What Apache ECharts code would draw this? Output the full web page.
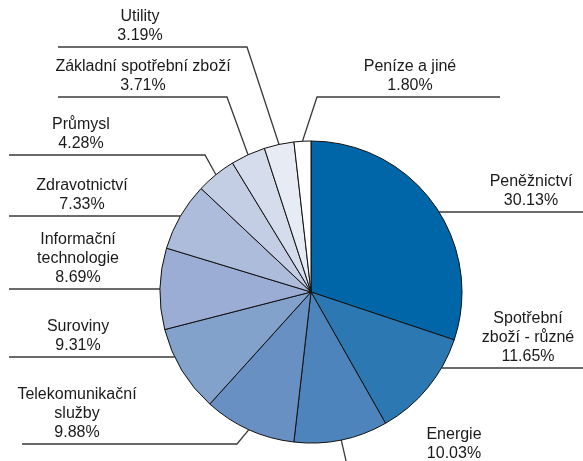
<!DOCTYPE html>
<html>
<head>
<meta charset="utf-8">
<script src="https://cdn.jsdelivr.net/npm/echarts@6/dist/echarts.min.js"></script>
<style>
html,body{margin:0;padding:0;background:#fff;}
#c{width:583px;height:461px;}
</style>
</head>
<body>
<div id="c"></div>
<script>
// ---- data ----
const categories = ['Peněžnictví','Spotřební zboží - různé','Energie','Telekomunikační služby','Suroviny','Informační technologie','Zdravotnictví','Průmysl','Základní spotřební zboží','Utility','Peníze a jiné'];
const labelTexts = ['Peněžnictví','Spotřební\nzboží - různé','Energie','Telekomunikační\nslužby','Suroviny','Informační\ntechnologie','Zdravotnictví','Průmysl','Základní spotřební zboží','Utility','Peníze a jiné'];
const values = [30.13, 11.65, 10.03, 9.88, 9.31, 8.69, 7.33, 4.28, 3.71, 3.19, 1.80];

// ---- styles / layout ----
const colors = ['#0066a8','#2b78b3','#4d84bb','#6890c2','#82a1cb','#9badd4','#aebcdb','#c3cde4','#d5dcec','#e7ebf4','#ffffff'];
const CX = 311, CY = 292, R = 151;
// label layout: mode 'edge' = horizontal line starting on the pie rim; 'angle' = elbow line
const labelLayoutCfg = [
  {mode:'edge',  lineY:212, endX:583, tx:531},
  {mode:'edge',  lineY:368, endX:583, tx:528},
  {mode:'angle', elbow:[350,478], lineY:478, endX:540, tx:454, textBottom:463},
  {mode:'angle', elbow:[237,444], lineY:444, endX:22,  tx:77},
  {mode:'edge',  lineY:357, endX:9,   tx:78},
  {mode:'edge',  lineY:289, endX:9,   tx:78},
  {mode:'edge',  lineY:216, endX:9,   tx:82},
  {mode:'angle', elbow:[205,155], lineY:155, endX:9,   tx:81},
  {mode:'angle', elbow:[227,97],  lineY:97,  endX:58,  tx:143},
  {mode:'angle', elbow:[247,47],  lineY:47,  endX:58,  tx:140},
  {mode:'angle', elbow:[317,97],  lineY:97,  endX:500, tx:410}
];

const chart = echarts.init(document.getElementById('c'), null, {renderer:'canvas'});
const option = {
  animation: false,
  backgroundColor: '#ffffff',
  series: [{
    type: 'pie',
    center: [CX, CY],
    radius: [0, R],
    startAngle: 90,
    clockwise: true,
    avoidLabelOverlap: false,
    data: categories.map((c, i) => ({
      name: c,
      value: values[i],
      itemStyle: {color: colors[i]}
    })),
    itemStyle: {borderColor: '#111', borderWidth: 1},
    emphasis: {disabled: true},
    label: {
      show: true,
      position: 'outside',
      fontFamily: 'Liberation Sans, Arial, sans-serif',
      fontSize: 16,
      lineHeight: 19,
      color: '#1a1a1a',
      formatter: p => labelTexts[p.dataIndex] + '\n' + values[p.dataIndex].toFixed(2) + '%'
    },
    labelLine: {
      show: true,
      lineStyle: {color: '#3a3a3a', width: 1.3}
    },
    labelLayout: function (params) {
      const cfg = labelLayoutCfg[params.dataIndex];
      let pts;
      if (cfg.mode === 'edge') {
        const dy = cfg.lineY - CY;
        const dx = Math.sqrt(Math.max(0, R * R - dy * dy));
        const sx = cfg.endX > CX ? CX + dx : CX - dx;
        pts = [[sx, cfg.lineY], [sx, cfg.lineY], [cfg.endX, cfg.lineY]];
      } else {
        const p0 = params.labelLinePoints ? params.labelLinePoints[0] : [CX, CY - R];
        pts = [[p0[0], p0[1]], cfg.elbow, [cfg.endX, cfg.lineY]];
      }
      return {
        x: cfg.tx,
        y: cfg.textBottom != null ? cfg.textBottom : cfg.lineY - 2,
        align: cfg.align || 'center',
        verticalAlign: 'bottom',
        labelLinePoints: pts
      };
    }
  }]
};
chart.setOption(option);
</script>
</body>
</html>
